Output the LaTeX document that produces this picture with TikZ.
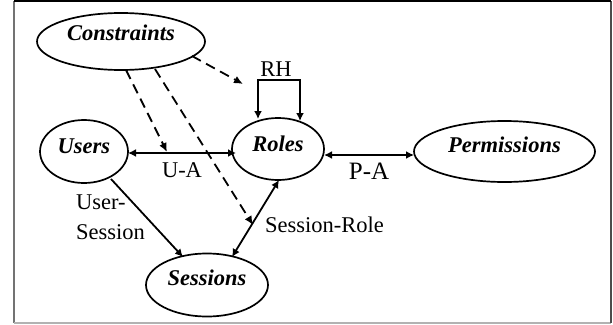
\documentclass[tikz,border=0pt]{standalone}
\usepackage{fontspec}
\setmainfont{Liberation Serif}
\usetikzlibrary{shapes.geometric,arrows.meta}
\tikzset{
  entity/.style={ellipse,draw=black,line width=1.7pt,inner sep=0pt,font=\fontsize{22.5}{24}\selectfont\bfseries\itshape},
  conn/.style={line width=1.8pt,draw=black},
  both/.style={conn,{Latex[length=8pt,width=8pt]}-{Latex[length=8pt,width=8pt]}},
  single/.style={conn,-{Latex[length=8pt,width=8pt]}},
  dashconn/.style={line width=1.8pt,draw=black,dash pattern=on 10pt off 6pt,-{Latex[length=9pt,width=8pt]}},
  lab/.style={inner sep=0pt,font=\fontsize{22.5}{24}\selectfont},
  frameline/.style={line width=1.3pt}
}
\begin{document}
\begin{tikzpicture}[x=1pt,y=-1pt]
\useasboundingbox (0,0) rectangle (613,324);
\fill[white] (0,0) rectangle (613,324);
\draw[frameline,draw=gray!90!black] (14,1) -- (14,323);
\draw[frameline,draw=gray!60] (14,323) -- (611,323);
\draw[frameline,draw=black!70] (611,323) -- (611,1);
\draw[frameline,draw=black] (611,1) -- (14,1);
\node[entity,minimum width=168pt,minimum height=57pt] (constraints) at (121,41.5) {\raisebox{17pt}{Constraints}};
\node[entity,minimum width=88pt,minimum height=63pt] (users) at (84,151.5) {\raisebox{11pt}{Users}};
\node[entity,minimum width=92pt,minimum height=62pt] (roles) at (278,149) {\raisebox{11pt}{Roles}};
\node[entity,minimum width=181pt,minimum height=61pt] (permissions) at (504.5,151.5) {\raisebox{13pt}{Permissions}};
\node[entity,minimum width=122pt,minimum height=63pt] (sessions) at (207,285) {\raisebox{15pt}{Sessions}};
\coordinate (ua1) at (128,153);
\coordinate (ua2) at (236,153);
\coordinate (pa1) at (324,155);
\coordinate (pa2) at (414,155);
\coordinate (rhl) at (258,119);
\coordinate (rhr) at (300,121);
\coordinate (rhtl) at (258,80);
\coordinate (rhtr) at (300,80);
\coordinate (sr1) at (279,180);
\coordinate (sr2) at (232,257);
\coordinate (us1) at (111,179);
\coordinate (us2) at (183,257);
\coordinate (c1s) at (126,70);
\coordinate (c1e) at (167,152);
\coordinate (c2s) at (155,69);
\coordinate (c2e) at (253,225);
\coordinate (c3s) at (192,56);
\coordinate (c3e) at (243,84);
\draw[both] (ua1) -- (ua2);
\draw[both] (pa1) -- (pa2);
\draw[both] (sr1) -- (sr2);
\draw[single] (us1) -- (us2);
\draw[single] (rhtl) -- (rhl);
\draw[single] (rhtr) -- (rhr);
\draw[conn,line cap=rect] (rhtl) -- (rhtr);
\draw[dashconn] (c1s) -- (c1e);
\draw[dashconn] (c2s) -- (c2e);
\draw[dashconn] (c3s) -- (c3e);
\node[lab] (rh) at (276,69) {RH};
\node[lab] (ualab) at (182,170) {U-A};
\node[lab,font=\fontsize{25}{27}\selectfont] (palab) at (369,171) {P-A};
\node[lab,anchor=west] (srlab) at (265,225) {Session-Role};
\node[lab,anchor=west] (uslab1) at (76,202) {User-};
\node[lab,anchor=west] (uslab2) at (76,232) {Session};
\end{tikzpicture}
\end{document}
